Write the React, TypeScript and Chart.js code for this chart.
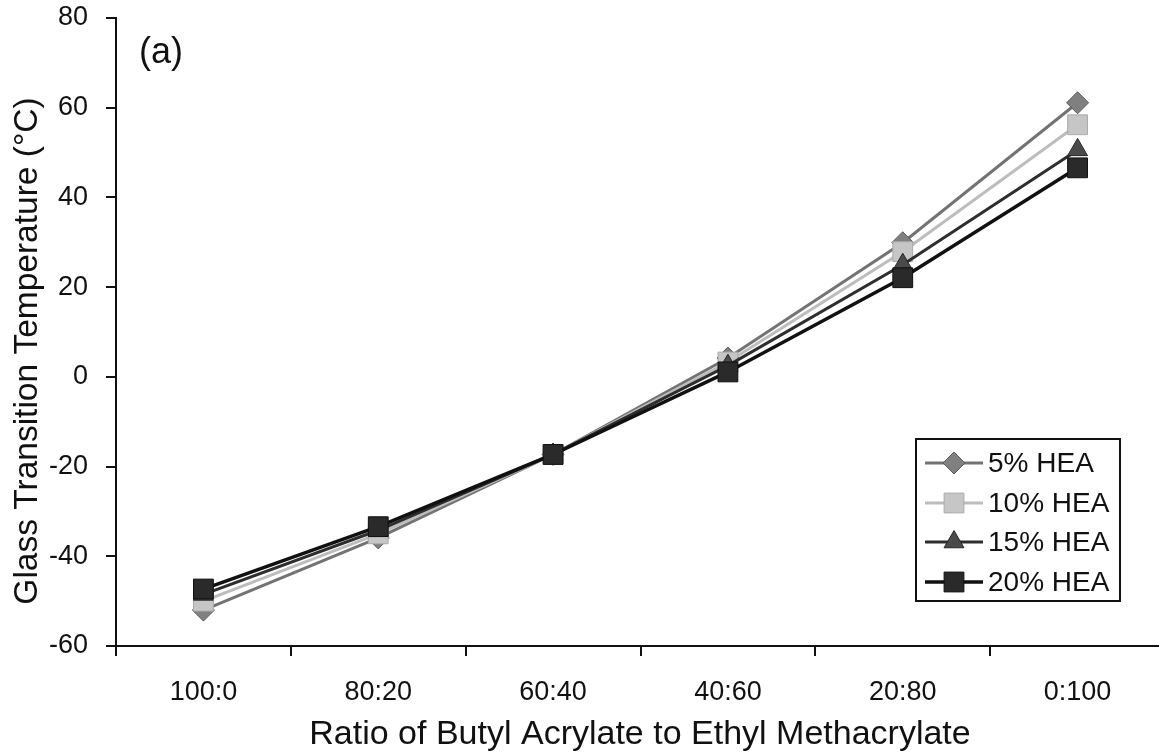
import React, { useEffect, useRef } from 'react';
import { Chart, registerables } from 'chart.js';

Chart.register(...registerables);

// Monomer ratio (butyl acrylate : ethyl methacrylate)
const ratios = ['100:0', '80:20', '60:40', '40:60', '20:80', '0:100'];

// Glass transition temperature (°C) for each HEA content
const hea5 = [-52.0, -35.9, -17.3, 4.2, 29.9, 61.1];
const hea10 = [-50.0, -35.0, -17.3, 3.3, 27.9, 56.2];
const hea15 = [-48.5, -34.2, -17.3, 2.5, 25.0, 50.6];
const hea20 = [-47.3, -33.4, -17.3, 1.1, 22.1, 46.6];

const seriesNames = ['5% HEA', '10% HEA', '15% HEA', '20% HEA'];

const yMin = -60;
const yMax = 80;
const yStep = 20;

const xTitle = 'Ratio of Butyl Acrylate to Ethyl Methacrylate';
const yTitle = 'Glass Transition Temperature (°C)';
const panelLabel = '(a)';

const FONT = '"Liberation Sans", Arial, Helvetica, sans-serif';

type Shape = 'rectRot' | 'rect' | 'triangle';

const styles: { line: string; fill: string; edge: string; shape: Shape; radius: number; width: number }[] = [
  { line: '#737373', fill: '#808080', edge: '#5a5a5a', shape: 'rectRot', radius: 11, width: 3 },
  { line: '#bdbdbd', fill: '#c6c6c6', edge: '#ababab', shape: 'rect', radius: 14, width: 3 },
  { line: '#2e2e2e', fill: '#4a4a4a', edge: '#262626', shape: 'triangle', radius: 11.5, width: 3 },
  { line: '#111111', fill: '#2a2a2a', edge: '#0f0f0f', shape: 'rect', radius: 14, width: 3.5 },
];

function markerPath(ctx: CanvasRenderingContext2D, shape: Shape, x: number, y: number, r: number) {
  ctx.beginPath();
  if (shape === 'rectRot') {
    ctx.moveTo(x, y - r);
    ctx.lineTo(x + r, y);
    ctx.lineTo(x, y + r);
    ctx.lineTo(x - r, y);
  } else if (shape === 'rect') {
    const h = r * Math.SQRT1_2;
    ctx.rect(x - h, y - h, 2 * h, 2 * h);
  } else {
    ctx.moveTo(x, y - r);
    ctx.lineTo(x + r * 0.866, y + r * 0.5);
    ctx.lineTo(x - r * 0.866, y + r * 0.5);
  }
  ctx.closePath();
}

const annotations = {
  id: 'annotations',
  afterDraw(chart: Chart) {
    const ctx = chart.ctx;
    const area = chart.chartArea;
    ctx.save();
    ctx.fillStyle = '#111';

    // panel label
    ctx.font = `36px ${FONT}`;
    ctx.textAlign = 'left';
    ctx.textBaseline = 'middle';
    ctx.fillText(panelLabel, area.left + 23, area.top + 35);

    // x axis title
    ctx.font = `34px ${FONT}`;
    ctx.textAlign = 'center';
    ctx.fillText(xTitle, 640, 735);

    // y axis title
    ctx.save();
    ctx.translate(28, 351);
    ctx.rotate(-Math.PI / 2);
    ctx.font = `33.5px ${FONT}`;
    ctx.fillText(yTitle, 0, 0);
    ctx.restore();

    // legend
    const bx = 916, by = 439, bw = 204, bh = 162;
    ctx.fillStyle = '#fff';
    ctx.fillRect(bx, by, bw, bh);
    ctx.strokeStyle = '#111';
    ctx.lineWidth = 2;
    ctx.strokeRect(bx, by, bw, bh);
    const rows = [463, 503, 542, 582];
    seriesNames.forEach((name, i) => {
      const s = styles[i];
      const y = rows[i];
      ctx.strokeStyle = s.line;
      ctx.lineWidth = s.width;
      ctx.beginPath();
      ctx.moveTo(925, y);
      ctx.lineTo(983, y);
      ctx.stroke();
      markerPath(ctx, s.shape, 954, y, s.radius);
      ctx.fillStyle = s.fill;
      ctx.fill();
      ctx.strokeStyle = s.edge;
      ctx.lineWidth = 1;
      ctx.stroke();
      ctx.fillStyle = '#111';
      ctx.font = `28px ${FONT}`;
      ctx.textAlign = 'left';
      ctx.textBaseline = 'middle';
      ctx.fillText(name, 988, y + 1);
    });
    ctx.restore();
  },
};

export default function App() {
  const canvasRef = useRef<HTMLCanvasElement | null>(null);

  useEffect(() => {
    const canvas = canvasRef.current;
    if (!canvas) return;
    const series = [hea5, hea10, hea15, hea20];
    const chart = new Chart(canvas, {
      type: 'line',
      data: {
        labels: ratios,
        datasets: series.map((values, i) => ({
          label: seriesNames[i],
          data: values,
          borderColor: styles[i].line,
          borderWidth: styles[i].width,
          backgroundColor: styles[i].fill,
          pointBackgroundColor: styles[i].fill,
          pointBorderColor: styles[i].edge,
          pointBorderWidth: 1,
          pointStyle: styles[i].shape,
          pointRadius: styles[i].radius,
          pointHoverRadius: styles[i].radius,
          tension: 0,
          fill: false,
          order: series.length - i,
        })),
      },
      options: {
        animation: false,
        responsive: false,
        devicePixelRatio: 1,
        layout: { padding: { top: 18, right: 14, left: 0, bottom: 0 } },
        plugins: {
          legend: { display: false },
          tooltip: { enabled: false },
        },
        scales: {
          x: {
            type: 'category',
            offset: true,
            grid: {
              offset: true,
              drawOnChartArea: false,
              drawTicks: true,
              tickLength: 10,
              color: '#111',
              lineWidth: 2,
            },
            border: { display: true, color: '#111', width: 2 },
            ticks: {
              font: { family: FONT, size: 27 },
              color: '#111',
              padding: 20,
              maxRotation: 0,
              autoSkip: false,
            },
            afterFit: (scale: any) => {
              scale.height = 110;
              scale.paddingLeft = 0;
              scale.paddingRight = 0;
            },
          },
          y: {
            min: yMin,
            max: yMax,
            grid: {
              drawOnChartArea: false,
              drawTicks: true,
              tickLength: 10,
              color: '#111',
              lineWidth: 2,
            },
            border: { display: true, color: '#111', width: 2 },
            ticks: {
              stepSize: yStep,
              font: { family: FONT, size: 27 },
              color: '#111',
              padding: 18,
            },
            afterFit: (scale: any) => {
              scale.width = 116;
              scale.paddingTop = 0;
              scale.paddingBottom = 0;
            },
          },
        },
      },
      plugins: [annotations],
    });
    return () => chart.destroy();
  }, []);

  return (
    <div
      style={{
        position: 'fixed',
        left: 0,
        top: 0,
        width: 1159,
        height: 756,
        overflow: 'hidden',
        background: '#fff',
      }}
    >
      <canvas ref={canvasRef} width={1180} height={756} style={{ display: 'block' }} />
    </div>
  );
}
